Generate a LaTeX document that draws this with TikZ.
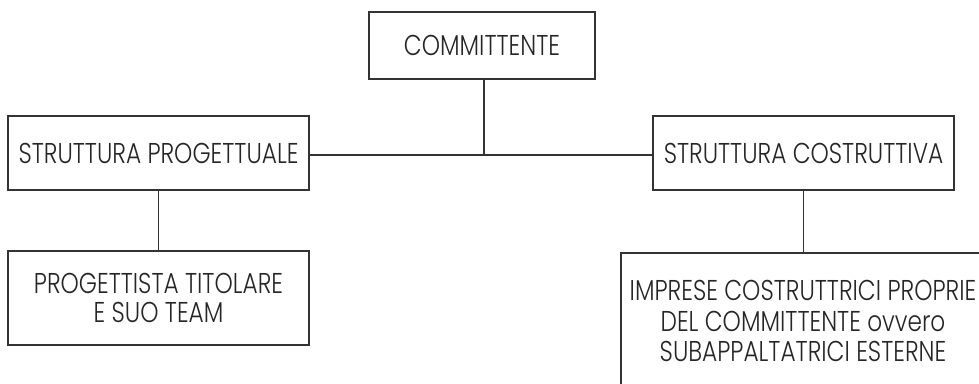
\documentclass[tikz,border=0pt]{standalone}
\usepackage{fontspec}
\setmainfont{Poppins}[UprightFont=* Light, FakeStretch=0.81]
\begin{document}
\begin{tikzpicture}[x=0.75pt,y=-0.75pt,
  frame/.style={draw=black!80, line width=1.4pt, inner sep=0pt},
  box/.style={frame, align=center, text=black!85,
    font=\fontsize{21.5}{22}\selectfont},
  caption/.style={inner sep=0pt, align=center, text=black!85,
    font=\fontsize{21.5}{23}\selectfont},
  link/.style={draw=black!80, line width=1.4pt}]
\clip (0,0) rectangle (979,384);
\fill[white] (0,0) rectangle (979,384);

% top of the hierarchy
\node[box, minimum width=169.5pt, minimum height=50.25pt] (A) at (482,45.5) {COMMITTENTE};

% second level
\node[box, minimum width=225.75pt, minimum height=55.5pt] (B) at (158.5,153) {STRUTTURA PROGETTUALE};
\node[box, minimum width=225.75pt, minimum height=55.5pt] (C) at (803.5,153) {STRUTTURA COSTRUTTIVA};

% third level
\node[box, minimum width=225.75pt, minimum height=70.5pt] (D) at (158.5,298) {PROGETTISTA TITOLARE\\E SUO TEAM};
\node[frame, minimum width=273pt, minimum height=135pt] (E) at (803,343) {};
\node[caption, anchor=north] (Et) at (803,280) {IMPRESE COSTRUTTRICI PROPRIE\\DEL COMMITTENTE ovvero\\SUBAPPALTATRICI ESTERNE};

% connectors
\coordinate (J) at (484,155);
\draw[link] (A.south -| J) -- (J);
\draw[link] (B.east |- J) -- (C.west |- J);
\draw[link] (B.south) -- (D.north);
\draw[link] (C.south) -- (C.south |- E.north);
\end{tikzpicture}
\end{document}
